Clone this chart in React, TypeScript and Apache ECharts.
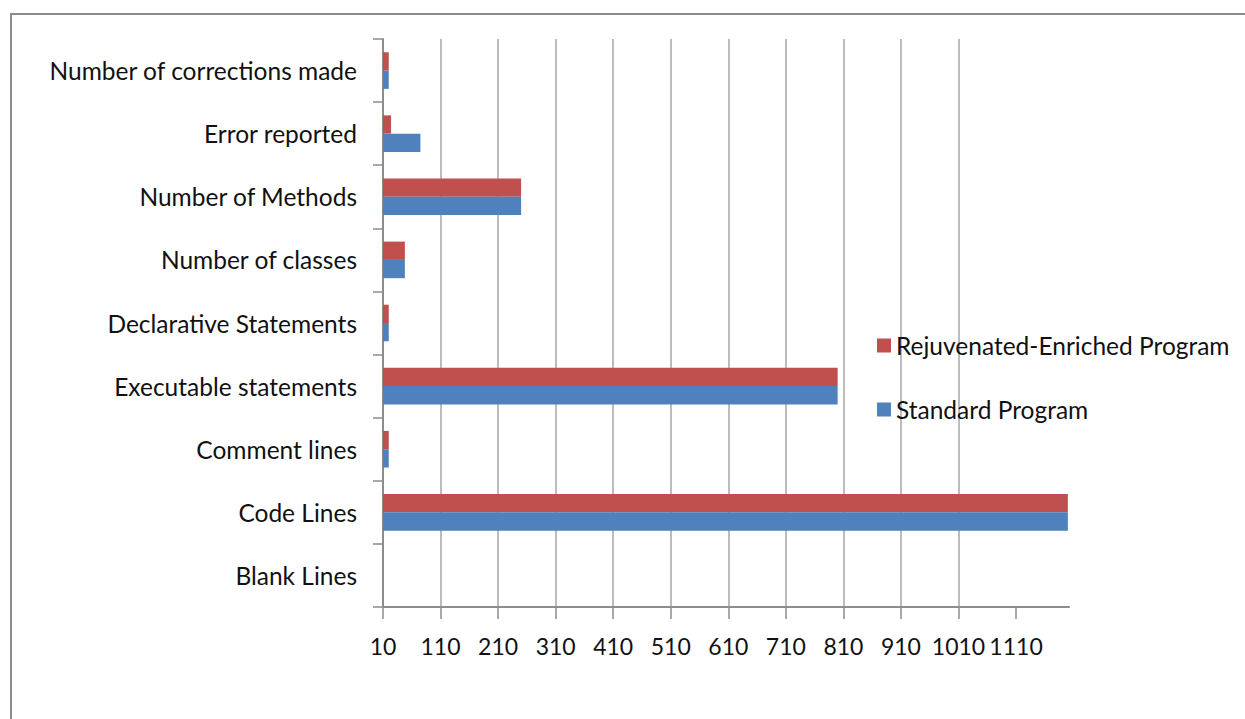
import React, { useEffect, useRef } from "react";
import * as echarts from "echarts";

const categories = [
  "Blank Lines",
  "Code Lines",
  "Comment lines",
  "Executable statements",
  "Declarative Statements",
  "Number of classes",
  "Number of Methods",
  "Error reported",
  "Number of corrections made",
];
const standardProgram = [0, 1200, 20, 800, 20, 48, 250, 75, 20];
const rejuvenatedProgram = [0, 1200, 20, 800, 20, 48, 250, 24, 20];
const tickLabels = [10, 110, 210, 310, 410, 510, 610, 710, 810, 910, 1010, 1110];
const axisMin = 10;
const axisMax = 1202;

const FONT = "Lato, 'Open Sans', sans-serif";

export default function App() {
  const ref = useRef<HTMLDivElement>(null);
  useEffect(() => {
    document.body.style.margin = "0";
    const chart = echarts.init(ref.current!, null, { renderer: "svg" });
    chart.setOption({
      animation: false,
      backgroundColor: "#ffffff",
      graphic: [
        {
          type: "rect",
          shape: { x: 11, y: 14, width: 1400, height: 900 },
          style: { fill: "none", stroke: "#8c8c8c", lineWidth: 2 },
          silent: true,
        },
      ],
      legend: {
        orient: "vertical",
        left: 872,
        top: 328,
        itemWidth: 14,
        itemHeight: 14,
        itemGap: 39,
        data: ["Rejuvenated-Enriched Program", "Standard Program"],
        textStyle: { fontFamily: FONT, fontSize: 24.5, color: "#111111" },
        icon: "rect",
      },
      grid: { left: 383, top: 39, right: 176, bottom: 112, containLabel: false },
      xAxis: {
        type: "value",
        min: axisMin,
        max: axisMax,
        interval: 100,
        axisLine: { show: true, lineStyle: { color: "#8c8c8c", width: 2 } },
        axisTick: {
          show: true,
          length: 12,
          lineStyle: { color: "#8c8c8c", width: 1.5 },
          customValues: tickLabels,
        },
        axisLabel: {
          customValues: tickLabels,
          formatter: (v: number) => String(v),
          margin: 27,
          fontFamily: FONT,
          fontSize: 23,
          color: "#111111",
        },
        splitLine: {
          show: true,
          showMinLine: false,
          showMaxLine: false,
          lineStyle: { color: "#a6a6a6", width: 1.5 },
        },
      },
      yAxis: {
        type: "category",
        data: categories,
        axisLine: { show: true, lineStyle: { color: "#8c8c8c", width: 2 } },
        axisTick: { show: true, length: 10, lineStyle: { color: "#8c8c8c", width: 1.5 } },
        axisLabel: {
          margin: 26,
          fontFamily: FONT,
          fontSize: 24.5,
          color: "#111111",
        },
      },
      series: [
        {
          name: "Rejuvenated-Enriched Program",
          type: "bar",
          data: rejuvenatedProgram,
          barGap: "0%",
          barCategoryGap: "42%",
          itemStyle: { color: "#c0504d" },
        },
        {
          name: "Standard Program",
          type: "bar",
          data: standardProgram,
          barGap: "0%",
          barCategoryGap: "42%",
          itemStyle: { color: "#4f81bd" },
        },
      ],
    });
    return () => chart.dispose();
  }, []);
  return <div ref={ref} style={{ width: 1245, height: 719 }} />;
}
